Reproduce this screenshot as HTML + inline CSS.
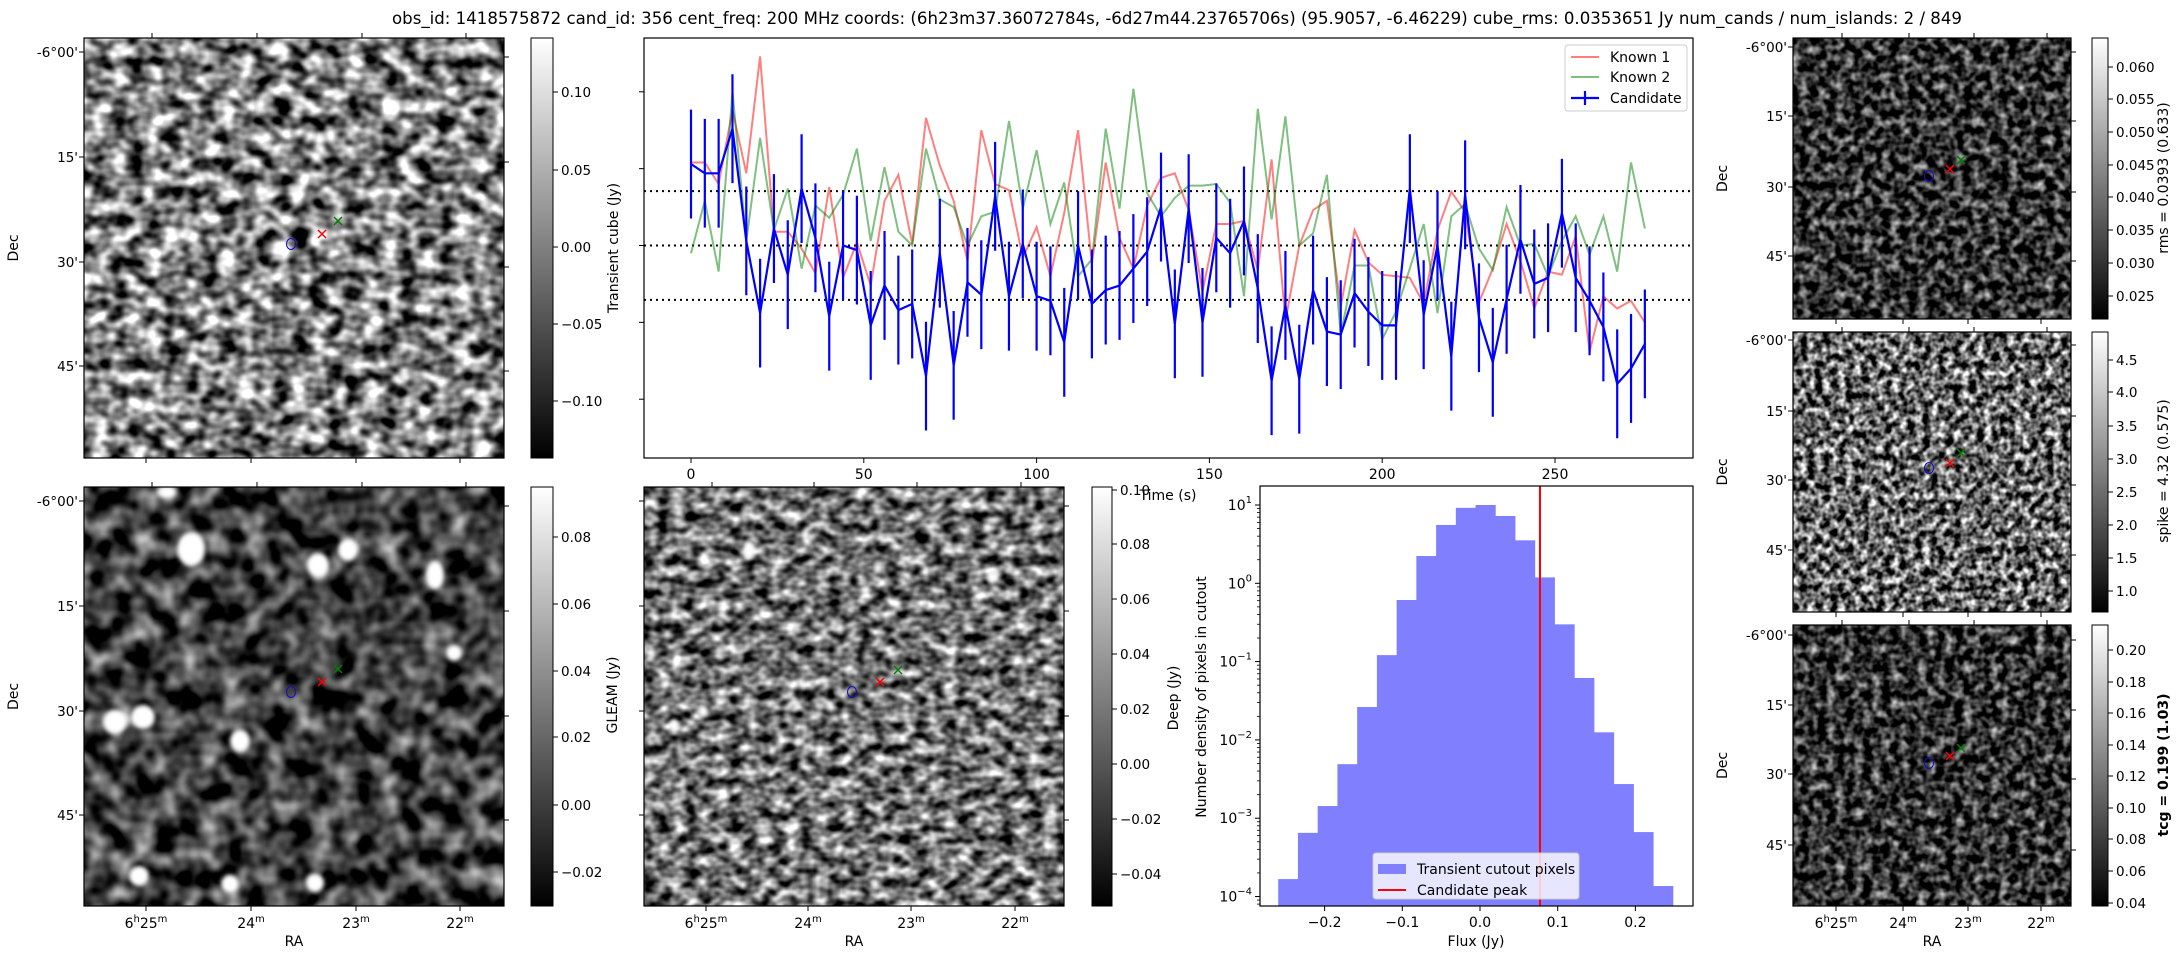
<!DOCTYPE html>
<html><head><meta charset="utf-8">
<style>
html,body{margin:0;padding:0;background:#fff;}
svg{display:block;font-family:"DejaVu Sans","Liberation Sans",sans-serif;}
</style></head>
<body>
<svg id="fig" width="2184" height="960" viewBox="0 0 2184 960" xmlns="http://www.w3.org/2000/svg">
<defs>
 <linearGradient id="cbgrad" x1="0" y1="1" x2="0" y2="0"><stop offset="0" stop-color="#000"/><stop offset="1" stop-color="#fff"/></linearGradient>
 <filter id="fTL" color-interpolation-filters="sRGB" filterUnits="userSpaceOnUse" x="84" y="38" width="420" height="420"><feTurbulence type="fractalNoise" baseFrequency="0.055 0.07" numOctaves="2" seed="3"/><feColorMatrix type="matrix" values="2.2 0 0 0 -0.6  2.2 0 0 0 -0.6  2.2 0 0 0 -0.6  0 0 0 0 1"/></filter>
 <filter id="fBL" color-interpolation-filters="sRGB" filterUnits="userSpaceOnUse" x="84" y="487" width="420" height="419"><feTurbulence type="fractalNoise" baseFrequency="0.045" numOctaves="2" seed="7"/><feColorMatrix type="matrix" values="1.5 0 0 0 -0.5  1.5 0 0 0 -0.5  1.5 0 0 0 -0.5  0 0 0 0 1"/></filter>
 <filter id="fBM" color-interpolation-filters="sRGB" filterUnits="userSpaceOnUse" x="644" y="487" width="420" height="419"><feTurbulence type="fractalNoise" baseFrequency="0.07 0.09" numOctaves="2" seed="11"/><feColorMatrix type="matrix" values="1.8 0 0 0 -0.45  1.8 0 0 0 -0.45  1.8 0 0 0 -0.45  0 0 0 0 1"/></filter>
 <filter id="fR1" color-interpolation-filters="sRGB" filterUnits="userSpaceOnUse" x="1793" y="38" width="278" height="281"><feTurbulence type="fractalNoise" baseFrequency="0.11" numOctaves="2" seed="5"/><feColorMatrix type="matrix" values="1.6 0 0 0 -0.6  1.6 0 0 0 -0.6  1.6 0 0 0 -0.6  0 0 0 0 1"/></filter>
 <filter id="fR2" color-interpolation-filters="sRGB" filterUnits="userSpaceOnUse" x="1793" y="332" width="278" height="280"><feTurbulence type="fractalNoise" baseFrequency="0.13" numOctaves="2" seed="9"/><feColorMatrix type="matrix" values="2.2 0 0 0 -0.7  2.2 0 0 0 -0.7  2.2 0 0 0 -0.7  0 0 0 0 1"/></filter>
 <filter id="fR3" color-interpolation-filters="sRGB" filterUnits="userSpaceOnUse" x="1793" y="625" width="278" height="281"><feTurbulence type="fractalNoise" baseFrequency="0.11" numOctaves="2" seed="13"/><feColorMatrix type="matrix" values="1.6 0 0 0 -0.6  1.6 0 0 0 -0.6  1.6 0 0 0 -0.6  0 0 0 0 1"/></filter>
 <filter id="blur2"><feGaussianBlur stdDeviation="2"/></filter>
</defs>
<text x="1177" y="24" font-size="17" text-anchor="middle" textLength="1570" lengthAdjust="spacingAndGlyphs">obs_id: 1418575872 cand_id: 356 cent_freq: 200 MHz coords: (6h23m37.36072784s, -6d27m44.23765706s) (95.9057, -6.46229) cube_rms: 0.0353651 Jy num_cands / num_islands: 2 / 849</text>
<g id="root"></g>
</svg>
<script>
// ===== Light curve data (t = 0..276 s, step 4) =====
const times = [0,4,8,12,16,20,24,28,32,36,40,44,48,52,56,60,64,68,72,76,80,84,88,92,96,100,104,108,112,116,120,124,128,132,136,140,144,148,152,156,160,164,168,172,176,180,184,188,192,196,200,204,208,212,216,220,224,228,232,236,240,244,248,252,256,260,264,268,272,276];
const candidateFlux = [0.053,0.047,0.047,0.076,0.003,-0.044,0.011,-0.019,0.037,0.005,-0.046,0.000,-0.003,-0.052,-0.026,-0.042,-0.038,-0.085,-0.005,-0.078,-0.024,-0.032,0.032,-0.033,0.001,-0.033,-0.036,-0.063,0.000,-0.038,-0.029,-0.026,-0.015,-0.004,0.025,-0.051,0.024,-0.050,0.005,-0.005,0.016,-0.028,-0.088,-0.039,-0.087,-0.029,-0.056,-0.058,-0.031,-0.043,-0.052,-0.052,0.037,-0.045,0.000,-0.072,0.033,-0.047,-0.076,-0.035,0.004,-0.025,-0.021,0.021,-0.021,-0.036,-0.053,-0.090,-0.080,-0.064];
const candidateErr = [0.0354,0.0354,0.0354,0.0354,0.0354,0.0354,0.0354,0.0354,0.0354,0.0354,0.0354,0.0354,0.0354,0.0354,0.0354,0.0354,0.0354,0.0354,0.0354,0.0354,0.0354,0.0354,0.0354,0.0354,0.0354,0.0354,0.0354,0.0354,0.0354,0.0354,0.0354,0.0354,0.0354,0.0354,0.0354,0.0354,0.0354,0.0354,0.0354,0.0354,0.0354,0.0354,0.0354,0.0354,0.0354,0.0354,0.0354,0.0354,0.0354,0.0354,0.0354,0.0354,0.0354,0.0354,0.0354,0.0354,0.0354,0.0354,0.0354,0.0354,0.0354,0.0354,0.0354,0.0354,0.0354,0.0354,0.0354,0.0354,0.0354,0.0354];
const known1Flux = [0.054,0.054,0.040,0.088,0.047,0.123,0.009,0.009,-0.002,-0.018,0.038,-0.021,0.002,-0.026,0.029,0.046,0.001,0.083,0.052,0.029,-0.010,0.075,0.040,0.036,-0.008,0.012,-0.020,0.021,0.075,-0.012,0.054,0.005,-0.015,0.026,0.044,0.047,0.023,-0.030,0.014,0.014,0.016,-0.016,0.056,-0.049,0.000,0.023,0.029,-0.040,0.010,-0.011,-0.019,-0.020,-0.021,-0.038,0.010,0.035,0.022,-0.037,-0.015,0.014,-0.010,-0.041,-0.017,-0.019,0.006,-0.069,-0.033,-0.041,-0.036,-0.050];
const known2Flux = [-0.005,0.029,-0.017,0.100,0.003,0.070,0.010,0.037,-0.015,0.026,0.018,0.033,0.063,0.003,0.051,0.009,0.000,0.063,0.030,0.025,0.000,0.019,0.022,0.081,0.024,0.062,0.014,0.041,-0.020,-0.009,0.076,0.024,0.102,0.034,0.019,0.031,0.039,0.039,0.040,0.028,-0.033,0.089,0.017,0.084,0.000,0.008,0.046,-0.058,-0.013,-0.013,-0.061,-0.043,-0.015,0.014,-0.044,0.019,0.027,-0.002,-0.016,0.025,0.000,0.001,-0.020,0.003,0.019,-0.006,0.019,-0.017,0.054,0.011];
const cubeRms = 0.0353651;
const lcXTicks = [0,50,100,150,200,250];
const lcYTicks = [0.10,0.05,0.00,-0.05,-0.10];
// ===== Histogram data =====
const histEdgeStart = -0.2597;
const histBinWidth = 0.0254;
const histDensity = [1.67e-4,6.5e-4,1.43e-3,4.9e-3,0.0263,0.121,0.612,2.23,5.56,9.2,10.0,7.24,3.54,1.19,0.299,0.0618,0.0125,2.73e-3,6.65e-4,1.36e-4];
const candidatePeak = 0.0772;
const histXTicks = [-0.2,-0.1,0.0,0.1,0.2];
const histYTickExps = [1,0,-1,-2,-3,-4];

const NS = "http://www.w3.org/2000/svg";
const root = document.getElementById('root');
function mk(tag, attrs, parent, text){
  const e = document.createElementNS(NS, tag);
  for (const k in attrs) e.setAttribute(k, attrs[k]);
  if (text !== undefined) e.textContent = text;
  (parent || root).appendChild(e);
  return e;
}
function grp(name){ const g = mk('g', {});   return g; }

// ===== Image panels =====
const decLabels = ["-6°00'","15'","30'","45'"];
const raLabels = [["6","h","25","m"],["","","24","m"],["","","23","m"],["","","22","m"]];
function imagePanel(name, x, y, w, h, filt, decY, raX, showDec, showRA, markers, blobs, cb){
  const g = grp(name);
  mk('rect', {x:x, y:y, width:w, height:h, fill:'#777', filter:'url(#'+filt+')'}, g);
  if (blobs){ const bg = mk('g', {filter:'url(#blur2)'}, g); blobs.forEach(b => mk('ellipse', {cx:b[0], cy:b[1], rx:b[2], ry:b[3], fill:'#fff'}, bg)); }
  mk('rect', {x:x, y:y, width:w, height:h, fill:'none', stroke:'#000', 'stroke-width':1.2}, g);
  decY.forEach((yy,i) => {
    mk('line', {x1:x-5, y1:yy, x2:x, y2:yy, stroke:'#000'}, g);
    mk('line', {x1:x+w, y1:yy+5, x2:x+w+5, y2:yy+5, stroke:'#000'}, g);
    if (showDec) mk('text', {x:x-6, y:yy+5, 'font-size':13.5, 'text-anchor':'end'}, g, decLabels[i]);
  });
  raX.forEach((xx,i) => {
    mk('line', {x1:xx, y1:y+h, x2:xx, y2:y+h+5, stroke:'#000'}, g);
    mk('line', {x1:xx+6, y1:y-5, x2:xx+6, y2:y, stroke:'#000'}, g);
    if (showRA){
      const t = mk('text', {x:xx, y:y+h+22, 'font-size':14, 'text-anchor':'middle'}, g);
      const L = raLabels[i];
      if (L[0]) { mk('tspan', {}, t, L[0]); mk('tspan', {'font-size':10, dy:-6}, t, L[1]); mk('tspan', {dy:6}, t, L[2]); }
      else mk('tspan', {}, t, L[2]);
      mk('tspan', {'font-size':10, dy:-6}, t, L[3]);
    }
  });
  if (showDec){ const d = mk('text', {x:0, y:0, 'font-size':14, 'text-anchor':'middle', transform:'translate('+(x-66)+','+(y+h/2)+') rotate(-90)'}, g, 'Dec');   }
  if (showRA){ const r = mk('text', {x:x+w/2, y:y+h+40, 'font-size':14, 'text-anchor':'middle'}, g, 'RA');   }
  mk('ellipse', {cx:markers[0][0], cy:markers[0][1], rx:4.5, ry:5.5, fill:'none', stroke:'#1010c0', 'stroke-width':1.1}, g);
  [[markers[1],'#ff0000'],[markers[2],'#008000']].forEach(m => {
    const [cx,cy] = m[0];
    mk('path', {d:'M'+(cx-4)+','+(cy-4)+'L'+(cx+4)+','+(cy+4)+'M'+(cx-4)+','+(cy+4)+'L'+(cx+4)+','+(cy-4), stroke:m[1], 'stroke-width':1.5}, g);
  });
  const cg = grp(name+'-colorbar');
  mk('rect', {x:cb.x, y:y, width:cb.w, height:h, fill:'url(#cbgrad)', stroke:'#000', 'stroke-width':1}, cg);
  cb.ticks.forEach(t => {
    mk('line', {x1:cb.x+cb.w, y1:t[1], x2:cb.x+cb.w+5, y2:t[1], stroke:'#000'}, cg);
    mk('text', {x:cb.x+cb.w+8, y:t[1]+5, 'font-size':13.5}, cg, t[0]);
  });
  if (cb.label){
    const lt = mk('text', {x:0, y:0, 'font-size':14, 'text-anchor':'middle', 'font-weight':cb.bold?'bold':'normal', transform:'translate('+cb.lx+','+cb.ly+') rotate(-90)'}, cg, cb.label);
     
  }
}
const raBig = [146,251,356,460];
const raMid = [706,808,911,1015];
const raR = [1836,1903,1968,2041];
imagePanel('transient-cutout', 84,38,420,420,'fTL',[52,157,262,366],raBig,true,false,
  [[291,244],[322,234],[338,221]], null,
  {x:531,w:22,ticks:[['0.10',92],['0.05',170],['0.00',247],['−0.05',324],['−0.10',401]]});
imagePanel('gleam-cutout', 84,487,420,419,'fBL',[501,606,711,815],raBig,true,true,
  [[291,692],[322,682],[338,669]],
  [[191,549,14,17],[318,565,11,12],[348,550,10,11],[435,575,9,14],[454,653,8,8],[143,717,12,12],[115,722,12,12],[240,741,10,11],[139,876,10,10],[230,884,9,9],[315,883,9,9],[167,492,9,6]],
  {x:531,w:22,ticks:[['0.08',537],['0.06',604],['0.04',671],['0.02',737],['0.00',805],['−0.02',872]],label:'GLEAM (Jy)',lx:617,ly:695});
imagePanel('deep-cutout', 644,487,420,419,'fBM',[501,606,711,815],raMid,false,true,
  [[852,692],[880,682],[898,670]],
  [[749,550,6,9],[878,568,4,5],[992,577,5,6],[703,711,5,6],[674,726,4,7],[798,742,4,5],[875,884,4,5]],
  {x:1092,w:20,ticks:[['0.10',490],['0.08',544],['0.06',599],['0.04',654],['0.02',709],['0.00',764],['−0.02',819],['−0.04',874]],label:'Deep (Jy)',lx:1178,ly:698});
imagePanel('rms-map', 1793,38,278,281,'fR1',[47,116,187,256],raR,true,false,
  [[1929,176],[1950,169],[1961,160]], null,
  {x:2092,w:16,ticks:[['0.060',67],['0.055',99],['0.050',132],['0.045',165],['0.040',197],['0.035',230],['0.030',263],['0.025',296]],label:'rms = 0.0393 (0.633)',lx:2168,ly:178});
imagePanel('spike-map', 1793,332,278,280,'fR2',[340,411,480,550],raR,true,false,
  [[1929,468],[1950,463],[1961,453]], null,
  {x:2092,w:16,ticks:[['4.5',360],['4.0',392],['3.5',426],['3.0',459],['2.5',492],['2.0',525],['1.5',558],['1.0',591]],label:'spike = 4.32 (0.575)',lx:2168,ly:471});
imagePanel('tcg-map', 1793,625,278,281,'fR3',[635,705,774,845],raR,true,true,
  [[1929,763],[1950,756],[1961,748]], null,
  {x:2092,w:16,ticks:[['0.20',650],['0.18',682],['0.16',713],['0.14',745],['0.12',776],['0.10',808],['0.08',839],['0.06',871],['0.04',903]],label:'tcg = 0.199 (1.03)',bold:true,lx:2168,ly:765});

// ===== Light curve =====
const LC = {x0:644, x1:1693, y0:38, y1:458};
function xL(t){ return 691 + t*3.456; }
function yL(v){ return 245.5 - v*1537; }
const lc = grp('light-curve-chart');
mk('rect', {x:LC.x0, y:LC.y0, width:LC.x1-LC.x0, height:LC.y1-LC.y0, fill:'#fff'}, lc);
[cubeRms, 0, -cubeRms].forEach(v => {
  const l = mk('line', {x1:LC.x0, x2:LC.x1, y1:yL(v), y2:yL(v), stroke:'#000', 'stroke-width':2, 'stroke-dasharray':'2,4'}, lc);
   
});
function seriesPath(vals){ return vals.map((v,i) => (i?'L':'M') + xL(times[i]).toFixed(1) + ',' + yL(v).toFixed(1)).join(''); }
const k1 = mk('path', {d:seriesPath(known1Flux), fill:'none', stroke:'#ff0000', 'stroke-opacity':0.5, 'stroke-width':2}, lc);
 
const k2 = mk('path', {d:seriesPath(known2Flux), fill:'none', stroke:'#008000', 'stroke-opacity':0.5, 'stroke-width':2}, lc);
 
const eb = grp('candidate-error-bars');
candidateFlux.forEach((v,i) => {
  const e = mk('line', {x1:xL(times[i]), x2:xL(times[i]), y1:yL(v+candidateErr[i]), y2:yL(v-candidateErr[i]), stroke:'#0000ff', 'stroke-width':2.2}, eb);
   
});
const cl = mk('path', {d:seriesPath(candidateFlux), fill:'none', stroke:'#0000ff', 'stroke-width':2.2}, lc);
 
mk('rect', {x:LC.x0, y:LC.y0, width:LC.x1-LC.x0, height:LC.y1-LC.y0, fill:'none', stroke:'#000', 'stroke-width':1.2}, lc);
lcXTicks.forEach(t => {
  mk('line', {x1:xL(t), x2:xL(t), y1:LC.y1, y2:LC.y1+5, stroke:'#000'}, lc);
  const tl = mk('text', {x:xL(t), y:LC.y1+21, 'font-size':14, 'text-anchor':'middle'}, lc, String(t));
   
});
lcYTicks.forEach(v => mk('line', {x1:LC.x0-5, x2:LC.x0, y1:yL(v), y2:yL(v), stroke:'#000'}, lc));
const xt = mk('text', {x:1168, y:500, 'font-size':14, 'text-anchor':'middle'}, lc, 'Time (s)');
 
const yt = mk('text', {x:0, y:0, 'font-size':14, 'text-anchor':'middle', transform:'translate(618,248) rotate(-90)'}, lc, 'Transient cube (Jy)');
 
const lg = grp('light-curve-legend');
mk('rect', {x:1565, y:45, width:122, height:66, rx:3, fill:'#fff', 'fill-opacity':0.8, stroke:'#ccc'}, lg);
mk('line', {x1:1571, x2:1599, y1:57, y2:57, stroke:'#ff0000', 'stroke-opacity':0.5, 'stroke-width':2}, lg);
mk('text', {x:1610, y:62, 'font-size':14}, lg, 'Known 1');
mk('line', {x1:1571, x2:1599, y1:77, y2:77, stroke:'#008000', 'stroke-opacity':0.5, 'stroke-width':2}, lg);
mk('text', {x:1610, y:82, 'font-size':14}, lg, 'Known 2');
mk('line', {x1:1571, x2:1599, y1:98, y2:98, stroke:'#0000ff', 'stroke-width':2.2}, lg);
mk('line', {x1:1585, x2:1585, y1:91, y2:105, stroke:'#0000ff', 'stroke-width':2.2}, lg);
mk('text', {x:1610, y:103, 'font-size':14}, lg, 'Candidate');

// ===== Histogram =====
const H = {x0:1260, x1:1693, y0:486, y1:906};
function xH(f){ return 1480 + f*777; }
function yH(d){ return 505 + (1 - Math.log10(d))*78.3; }
const hg = grp('flux-histogram');
histDensity.forEach((d,i) => {
  const a = histEdgeStart + i*histBinWidth, b = a + histBinWidth;
  const r = mk('rect', {x:xH(a), y:yH(d), width:xH(b)-xH(a)+0.4, height:H.y1-yH(d), fill:'#8080ff'}, hg);
   
});
const pk = mk('line', {x1:xH(candidatePeak), x2:xH(candidatePeak), y1:H.y0, y2:H.y1, stroke:'#ff0000', 'stroke-width':2}, hg);
 
mk('rect', {x:H.x0, y:H.y0, width:H.x1-H.x0, height:H.y1-H.y0, fill:'none', stroke:'#000', 'stroke-width':1.2}, hg);
histXTicks.forEach(f => {
  mk('line', {x1:xH(f), x2:xH(f), y1:H.y1, y2:H.y1+5, stroke:'#000'}, hg);
  mk('text', {x:xH(f), y:H.y1+21, 'font-size':14, 'text-anchor':'middle'}, hg, (f<0?'−':'')+Math.abs(f).toFixed(1));
});
histYTickExps.forEach(p => {
  const yy = yH(Math.pow(10,p));
  mk('line', {x1:H.x0-5, x2:H.x0, y1:yy, y2:yy, stroke:'#000'}, hg);
  const t = mk('text', {x:H.x0-8, y:yy+5, 'font-size':14, 'text-anchor':'end'}, hg);
  mk('tspan', {}, t, '10'); mk('tspan', {'font-size':10, dy:-7}, t, p<0?'−'+(-p):String(p));
  for (let m=2;m<10;m++){ const ym = yH(m*Math.pow(10,p)); if (ym>H.y0 && ym<H.y1) mk('line', {x1:H.x0-3, x2:H.x0, y1:ym, y2:ym, stroke:'#000', 'stroke-width':0.8}, hg); }
});
for (let m=2;m<10;m++){ const ym = yH(m*1e-5); if (ym>H.y0 && ym<H.y1) mk('line', {x1:H.x0-3, x2:H.x0, y1:ym, y2:ym, stroke:'#000', 'stroke-width':0.8}, hg); }
const hx = mk('text', {x:1476, y:946, 'font-size':14, 'text-anchor':'middle'}, hg, 'Flux (Jy)');
 
const hy = mk('text', {x:0, y:0, 'font-size':14, 'text-anchor':'middle', transform:'translate(1206,697) rotate(-90)'}, hg, 'Number density of pixels in cutout');
 
const hl = grp('histogram-legend');
mk('rect', {x:1373, y:853, width:206, height:46, rx:3, fill:'#fff', 'fill-opacity':0.8, stroke:'#ccc'}, hl);
mk('rect', {x:1378, y:864, width:28, height:10, fill:'#8080ff'}, hl);
mk('text', {x:1417, y:874, 'font-size':14}, hl, 'Transient cutout pixels');
mk('line', {x1:1378, x2:1406, y1:890, y2:890, stroke:'#ff0000', 'stroke-width':2}, hl);
mk('text', {x:1417, y:895, 'font-size':14}, hl, 'Candidate peak');
</script>
</body></html>
